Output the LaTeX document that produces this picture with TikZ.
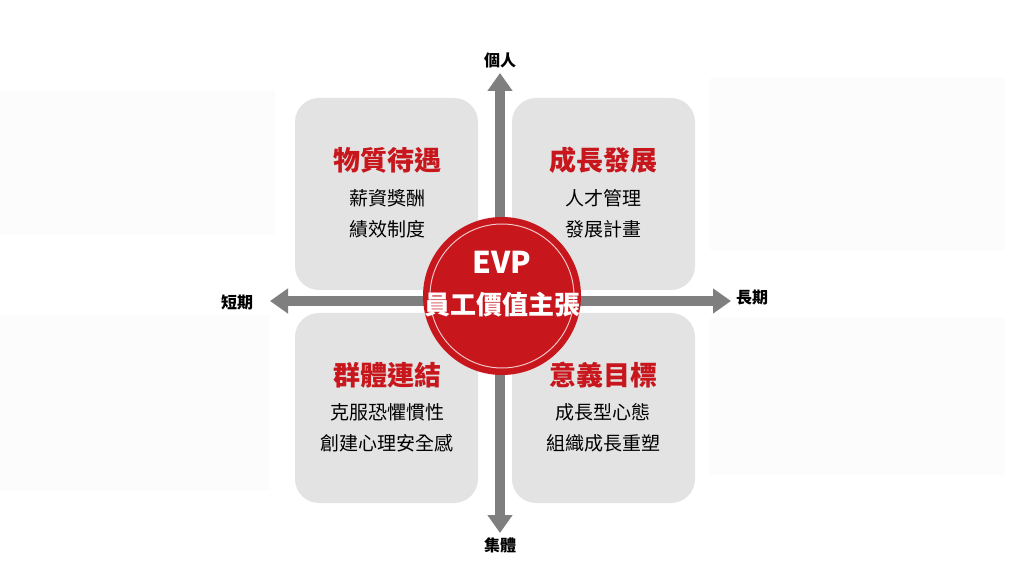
\documentclass[tikz,border=0pt]{standalone}
\usepackage{fontspec}
\setmainfont{Noto Sans CJK TC}
\usetikzlibrary{arrows.meta}
\definecolor{boxg}{HTML}{E3E3E3}
\definecolor{axg}{HTML}{7F7F7F}
\definecolor{evpred}{HTML}{C8161D}
\definecolor{faint}{HTML}{FCFCFC}
\tikzset{quad/.style={fill=boxg,rounded corners=24pt},
 ttl/.style={text=evpred,font=\bfseries\fontsize{27}{30}\selectfont},
 sub/.style={font=\fontsize{19}{31}\selectfont,align=center},
 axlab/.style={font=\bfseries\fontsize{16}{18}\selectfont},
 ax/.style={axg,line width=10pt,-{Triangle[length=18pt,width=24pt]}}}
\begin{document}
\begin{tikzpicture}[x=1pt,y=-1pt]
\useasboundingbox (0,0) rectangle (1012,569);
\fill[white] (0,0) rectangle (1012,569);
\fill[faint] (0,90) rectangle (275,235);
\fill[faint] (0,315) rectangle (270,490);
\fill[faint] (710,78) rectangle (1005,250);
\fill[faint] (710,318) rectangle (1005,475);
\fill[quad] (295,98) rectangle (478,290);
\fill[quad] (512,98) rectangle (695,290);
\fill[quad] (295,313) rectangle (478,503);
\fill[quad] (512,313) rectangle (695,503);
\coordinate (top) at (500,73);
\coordinate (bot) at (500,533);
\coordinate (lft) at (270,301);
\coordinate (rgt) at (731,301);
\coordinate (c) at (500,301);
\draw[white,line width=20pt] (500,120) -- (500,490);
\draw[white,line width=20pt] (300,301) -- (700,301);
\draw[ax] (c) -- (top);
\draw[ax] (c) -- (bot);
\draw[ax] (c) -- (lft);
\draw[ax] (c) -- (rgt);
\node[axlab] (l1) at (500,60) {個人};
\node[axlab] (l2) at (500,545) {集體};
\node[axlab] (l3) at (237,302) {短期};
\node[axlab] (l4) at (752,298) {長期};
\node[circle,fill=evpred,minimum size=158pt,inner sep=0pt] (evp) at (502,296) {};
\draw[white!75!evpred,line width=1pt] (evp.center) circle (72pt);
\node[white,font=\bfseries\fontsize{30}{32}\selectfont] (e1) at (502,262) {EVP};
\node[white,font=\bfseries\fontsize{26}{28}\selectfont] (e2) at (502,305) {員工價值主張};
\node[ttl] (t1) at (387,160) {物質待遇};
\node[sub] (s1) at (387,214) {薪資獎酬\\績效制度};
\node[ttl] (t2) at (603,160) {成長發展};
\node[sub] (s2) at (603,214) {人才管理\\發展計畫};
\node[ttl] (t3) at (387,375) {群體連結};
\node[sub] (s3) at (387,428) {克服恐懼慣性\\創建心理安全感};
\node[ttl] (t4) at (603,375) {意義目標};
\node[sub] (s4) at (603,428) {成長型心態\\組織成長重塑};
\end{tikzpicture}
\end{document}
